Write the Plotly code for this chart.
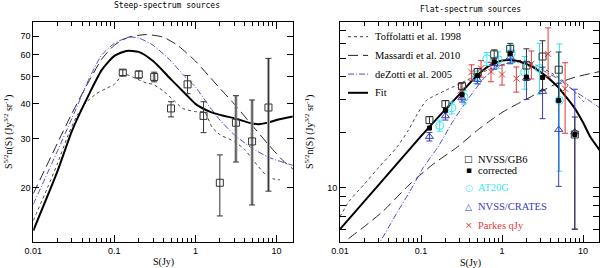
import plotly.graph_objects as go
import numpy as np

# ---------------- Left panel: steep-spectrum ----------------
L_fit_S = [0.01, 0.02, 0.03, 0.05, 0.07, 0.1, 0.14, 0.2, 0.3, 0.5, 0.75, 1, 1.5, 2, 3, 5, 6, 8, 10, 16]
L_fit_V = [14.0, 23.0, 32.0, 44.0, 53.0, 59.5, 62.0, 61.5, 57.0, 49.0, 43.5, 40.0, 37.5, 36.5, 35.5, 34.0, 33.8, 34.3, 35.0, 36.0]

L_mas_S = [0.01, 0.02, 0.03, 0.05, 0.07, 0.1, 0.15, 0.25, 0.4, 0.6, 1, 1.5, 2, 3, 5, 8, 12, 16]
L_mas_V = [19.0, 29.0, 37.0, 49.0, 58.0, 65.0, 69.5, 71.0, 69.5, 65.0, 57.0, 50.0, 45.5, 40.0, 33.5, 28.5, 25.0, 23.3]

L_dez_S = [0.01, 0.02, 0.03, 0.05, 0.07, 0.1, 0.15, 0.2, 0.3, 0.5, 0.7, 1, 1.5, 2, 3, 5, 8, 16]
L_dez_V = [17.4, 27.2, 35.5, 50.0, 60.0, 66.0, 69.5, 69.0, 65.0, 57.0, 51.0, 46.0, 39.0, 35.0, 31.0, 27.7, 25.7, 24.0]

L_tof_S = [0.01, 0.015, 0.02, 0.027, 0.035, 0.045, 0.06, 0.08, 0.1, 0.12, 0.14, 0.18, 0.25, 0.3, 0.4,
           0.55, 0.7, 1, 1.3, 1.6, 2, 3, 4, 5.2, 7.6, 9, 11]
L_tof_V = [15.2, 20.0, 24.5, 31.0, 36.5, 40.5, 43.5, 45.5, 47.0, 50.0, 51.0, 49.5, 47.5, 47.0, 44.5,
           41.0, 38.5, 37.5, 37.3, 33.0, 31.0, 29.3, 27.5, 25.0, 22.0, 21.5, 21.3]

L_pts_S = [0.127, 0.2, 0.31, 0.5, 0.8, 1.26, 2.0, 3.16, 5.0, 7.96]
L_pts_V = [51.8, 51.0, 50.0, 38.5, 47.0, 36.2, 20.8, 34.2, 29.3, 38.8]
L_pts_ep = [1.2, 1.5, 2.0, 2.2, 3.6, 4.5, 5.4, 8.6, 12.0, 19.5]
L_pts_em = [1.2, 1.5, 2.0, 2.6, 3.5, 4.7, 5.0, 9.5, 12.0, 19.4]
L_gray = [False, False, True, False, False, False, False, True, True, True]

# ---------------- Right panel: flat-spectrum ----------------
R_fit_S = [0.01, 0.03, 0.1, 0.2, 0.3, 0.5, 0.7, 1, 1.4, 2, 3, 4.7, 7.6, 10, 12.3, 16]
R_fit_V = [6.0, 10.4, 19.0, 26.5, 32.0, 40.5, 45.5, 48.5, 48.7, 46.5, 42.0, 35.6, 27.5, 22.5, 18.8, 16.0]

R_mas_S = [0.01, 0.012, 0.02, 0.034, 0.073, 0.14, 0.275, 0.5, 0.71, 1, 1.84, 3, 4.7, 8, 14.8, 16]
R_mas_V = [4.6, 5.2, 6.2, 7.5, 10.5, 13.4, 16.5, 20.5, 23.0, 25.5, 29.5, 33.0, 36.4, 39.5, 42.0, 42.3]

R_dez_S = [0.028, 0.031, 0.05, 0.073, 0.107, 0.16, 0.25, 0.4, 0.6, 0.8, 1, 1.4, 2, 3, 5, 8, 12, 16]
R_dez_V = [4.8, 5.1, 7.3, 9.6, 12.9, 16.5, 23.0, 31.0, 39.0, 43.5, 46.0, 47.5, 46.5, 43.5, 38.5, 33.0, 29.5, 27.0]

R_tof_S = [0.01, 0.013, 0.02, 0.03, 0.05, 0.07, 0.09, 0.117, 0.2, 0.3, 0.65, 1, 1.5, 2, 3, 4.5, 6.3, 8, 10.3]
R_tof_V = [7.0, 8.5, 10.5, 12.9, 16.5, 20.5, 25.0, 29.6, 33.5, 36.4, 43.0, 46.0, 48.5, 48.0, 44.6, 40.5, 36.4, 32.5, 29.0]

gb6_S = [0.127, 0.2, 0.32, 0.5, 0.8, 1.26, 2.0, 3.16, 5.0, 7.9]
gb6_V = [23.2, 28.3, 35.3, 42.0, 52.4, 56.0, 45.6, 51.0, 43.3, 19.4]
gb6_ep = [1.0, 1.2, 1.5, 2.0, 3.0, 4.0, 10.5, 11.0, 10.6, 4.7]
gb6_em = [1.0, 1.2, 1.5, 2.0, 3.0, 4.0, 7.7, 17.5, 14.0, 13.4]

cor_S = [0.127, 0.2, 0.32, 0.5, 0.8, 1.26, 2.0, 3.16, 5.0, 7.9]
cor_V = [21.0, 26.2, 31.8, 40.3, 47.6, 52.8, 39.5, 39.3, 29.6, 19.4]

at_S = [0.17, 0.24, 0.34, 0.48, 0.65, 0.9, 1.3, 1.9, 2.9, 5.1]
at_V = [21.7, 27.0, 30.8, 39.5, 49.6, 49.0, 53.0, 42.0, 44.0, 29.6]
at_ep = [1.5, 2.0, 2.5, 3.0, 4.0, 5.0, 6.0, 9.0, 16.0, 30.0]
at_em = [1.5, 2.0, 2.5, 3.0, 4.0, 5.0, 6.0, 8.0, 12.0, 17.3]

cr_S = [0.127, 0.2, 0.32, 0.5, 0.8, 1.26, 2.0, 3.16, 5.0, 7.9]
cr_V = [18.9, 24.4, 30.5, 38.3, 46.6, 50.6, 39.0, 33.0, 20.6, 20.0]
cr_ep = [1.0, 1.2, 1.5, 2.0, 3.0, 4.0, 9.0, 11.7, 16.0, 14.0]
cr_em = [1.0, 1.2, 1.5, 2.0, 3.0, 4.0, 9.0, 9.4, 10.4, 14.0]

pk_S = [0.31, 0.42, 0.55, 0.73, 1.0, 1.5, 2.3, 3.7, 6.0]
pk_V = [33.5, 42.0, 44.0, 42.3, 40.8, 38.8, 46.6, 52.7, 34.2]
pk_ep = [3.0, 4.0, 4.5, 5.0, 5.0, 6.0, 8.0, 20.0, 13.0]
pk_em = [3.0, 4.0, 4.5, 5.0, 5.0, 6.0, 8.0, 13.0, 14.5]

x_ticks = [0.01, 0.1, 1, 10]
x_ticklabels = ["0.01", "0.1", "1", "10"]
L_y_ticks = [20, 30, 40, 50, 60, 70]
R_y_ticks = [6, 7, 8, 9, 10, 20, 30, 40, 50, 60, 70]
R_y_labels = ["", "", "", "", "10", "", "", "", "", "", ""]

BLUE = "#4a4ad0"
CYAN = "#33e6f0"
CRB = "#3a3ac0"
RED = "#e03a3a"
SANS = "Liberation Sans"
SERIF = "Liberation Serif"

fig = go.Figure()

def line(S, V, xa, ya, color, width, dash):
    fig.add_trace(go.Scatter(x=S, y=V, mode="lines", xaxis=xa, yaxis=ya,
                             line=dict(color=color, width=width, dash=dash, shape="spline", smoothing=0.6),
                             showlegend=False, hoverinfo="skip"))

# left curves
line(L_tof_S, L_tof_V, "x", "y", "#444444", 1, "dot")
line(L_mas_S, L_mas_V, "x", "y", "#222222", 1, "10px,5px")
line(L_dez_S, L_dez_V, "x", "y", BLUE, 1, "6px,2px,1px,2px")
line(L_fit_S, L_fit_V, "x", "y", "black", 2, "solid")

# left points: gray thick bars
gS = [s for s, g in zip(L_pts_S, L_gray) if g]
gV = [v for v, g in zip(L_pts_V, L_gray) if g]
gp = [e for e, g in zip(L_pts_ep, L_gray) if g]
gm = [e for e, g in zip(L_pts_em, L_gray) if g]
fig.add_trace(go.Scatter(x=gS, y=gV, mode="markers", xaxis="x", yaxis="y",
                         marker=dict(size=1, color="#aaaaaa"),
                         error_y=dict(type="data", array=gp, arrayminus=gm, color="#aaaaaa", thickness=3, width=0),
                         showlegend=False))
fig.add_trace(go.Scatter(x=L_pts_S, y=L_pts_V, mode="markers", xaxis="x", yaxis="y",
                         marker=dict(symbol="square-open", size=7, color="#333333", line=dict(width=1)),
                         error_y=dict(type="data", array=L_pts_ep, arrayminus=L_pts_em, color="#333333",
                                      thickness=1, width=3),
                         showlegend=False))

# right curves
line(R_tof_S, R_tof_V, "x2", "y2", "#444444", 1, "dot")
line(R_mas_S, R_mas_V, "x2", "y2", "#222222", 1, "10px,5px")
line(R_dez_S, R_dez_V, "x2", "y2", BLUE, 1, "6px,2px,1px,2px")
line(R_fit_S, R_fit_V, "x2", "y2", "black", 2, "solid")

def pts(S, V, ep, em, symbol, color, size, lw=1):
    fig.add_trace(go.Scatter(x=S, y=V, mode="markers", xaxis="x2", yaxis="y2",
                             marker=dict(symbol=symbol, size=size, color=color, line=dict(width=lw, color=color)),
                             error_y=(dict(type="data", array=ep, arrayminus=em, color=color, thickness=1, width=3)
                                      if ep is not None else None),
                             showlegend=False))

pts(at_S, at_V, at_ep, at_em, "circle-open", CYAN, 8)
pts(pk_S, pk_V, pk_ep, pk_em, "x-thin-open", RED, 6)
pts(cr_S, cr_V, cr_ep, cr_em, "triangle-up-open", CRB, 7)
pts(gb6_S, gb6_V, gb6_ep, gb6_em, "square-open", "#333333", 7)
pts(cor_S, cor_V, None, None, "square", "black", 4)

axis_common = dict(type="log", showline=True, linecolor="black", linewidth=1, mirror="ticks",
                   ticks="inside", tickcolor="black", showgrid=False, zeroline=False, automargin=False,
                   tickfont=dict(family=SANS, size=9, color="black"))

minor_x = [k * 10 ** e for e in (-2, -1, 0, 1) for k in range(2, 10) if k * 10 ** e < 16]

fig.update_layout(
    template="none",
    width=600, height=268, margin=dict(l=0, r=0, t=0, b=0, pad=0),
    paper_bgcolor="white", plot_bgcolor="white", showlegend=False,
    xaxis=dict(**axis_common, domain=[33.3 / 600, 292.7 / 600], range=[-2, 1.2],
               tickvals=x_ticks, ticktext=x_ticklabels, ticklen=7, anchor="y",
               minor=dict(tickvals=minor_x, ticklen=4, ticks="inside", tickcolor="black")),
    yaxis=dict(**axis_common, domain=[1 - 242.3 / 268, 1 - 21.7 / 268], range=[np.log10(12.7), np.log10(79)],
               tickvals=L_y_ticks, ticklen=6, anchor="x"),
    xaxis2=dict(**axis_common, domain=[340 / 600, 599.3 / 600], range=[-2, 1.2],
                tickvals=x_ticks, ticktext=x_ticklabels, ticklen=7, anchor="y2",
                minor=dict(tickvals=minor_x, ticklen=4, ticks="inside", tickcolor="black")),
    yaxis2=dict(**axis_common, domain=[1 - 242.3 / 268, 1 - 21.7 / 268], range=[np.log10(5.1), np.log10(78.5)],
                tickvals=R_y_ticks, ticktext=R_y_labels, ticklen=6, anchor="x2"),
)

def px(x):
    return x / 600

def py(y):
    return 1 - y / 268

ann = []
TFONT = dict(family="DejaVu Sans Mono", size=8, color="black")
ann.append(dict(x=px(167), y=py(6), text="Steep-spectrum sources", font=TFONT))
ann.append(dict(x=px(470), y=py(9.5), text="Flat-spectrum sources", font=TFONT))
LFONT = dict(family=SERIF, size=10, color="black")
ann.append(dict(x=px(163), y=py(262), text="S(Jy)", font=LFONT))
ann.append(dict(x=px(470), y=py(263), text="S(Jy)", font=LFONT))
ylab = "S<sup>5/2</sup>n(S) (Jy<sup>3/2</sup> sr<sup>-1</sup>)"
ann.append(dict(x=px(8), y=py(132), text=ylab, textangle=-90, font=LFONT))
ann.append(dict(x=px(309), y=py(132), text=ylab, textangle=-90, font=LFONT))

# model legend
SF = dict(family=SERIF, size=10.5, color="black")
leg = [("Toffolatti et al. 1998", "#444444", "dot", 1),
       ("Massardi et al. 2010", "#222222", "10px,5px", 1),
       ("deZotti et al. 2005", BLUE, "6px,2px,1px,2px", 1),
       ("Fit", "black", "solid", 2)]
shapes = []
for i, (t, c, d, w) in enumerate(leg):
    yy = 36.7 + i * 18.7
    shapes.append(dict(type="line", xref="paper", yref="paper", x0=px(348), x1=px(368), y0=py(yy), y1=py(yy),
                       line=dict(color=c, dash=d, width=w)))
    ann.append(dict(x=px(373), y=py(yy), text=t, xanchor="left", font=SF))

# data legend
dleg = [("□", "NVSS/GB6", "black", 159), ("▪", "corrected", "black", 170),
        ("○", "AT20G", CYAN, 187.5), ("△", "NVSS/CRATES", CRB, 206.5), ("×", "Parkes qJy", RED, 225)]
for sym, t, c, yy in dleg:
    ann.append(dict(x=px(468.5), y=py(yy), text=sym, font=dict(family="DejaVu Sans", size=9, color=c)))
    ann.append(dict(x=px(476), y=py(yy), text=t, xanchor="left", font=dict(family=SERIF, size=10.5, color=c)))

for a in ann:
    a.setdefault("xref", "paper")
    a.setdefault("yref", "paper")
    a.setdefault("xanchor", "center")
    a.setdefault("yanchor", "middle")
    a.setdefault("showarrow", False)
fig.update_layout(annotations=ann, shapes=shapes)

fig.write_html("out.html", config={"displayModeBar": False},
               post_script="document.body.style.margin='0';document.body.style.overflow='hidden';")
